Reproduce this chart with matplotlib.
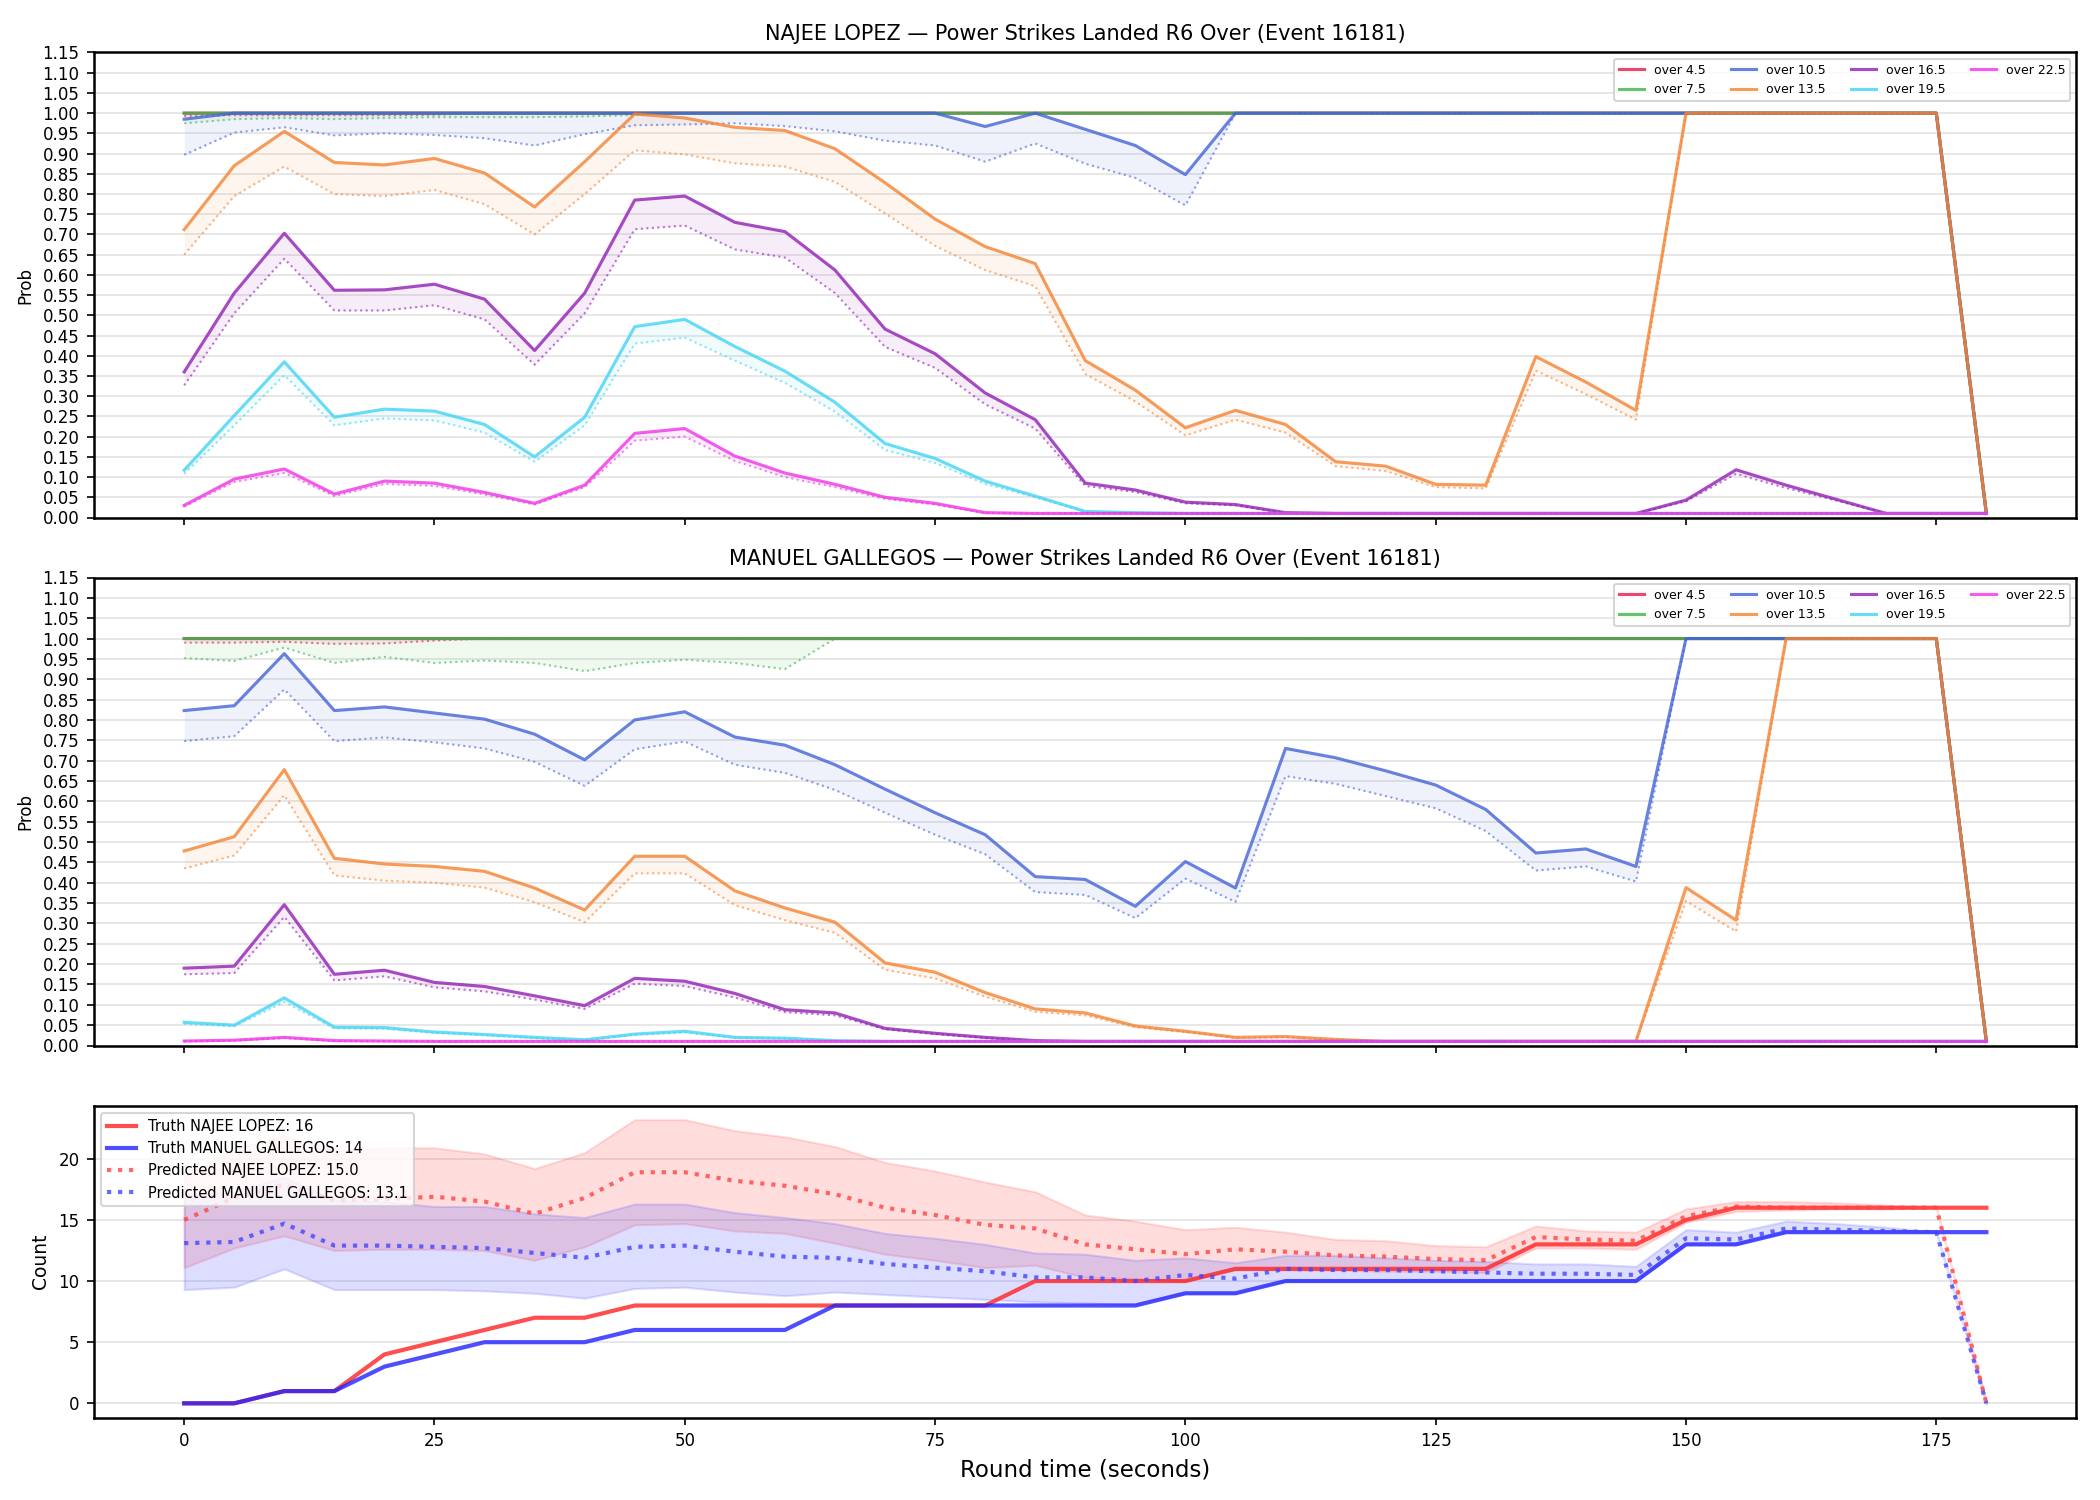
import numpy as np
import matplotlib
matplotlib.use('Agg')
import matplotlib.pyplot as plt

times = list(range(0, 185, 5))
thresholds = ['over 4.5', 'over 7.5', 'over 10.5', 'over 13.5', 'over 16.5', 'over 19.5', 'over 22.5']
colors = ['#e6194b', '#3cb44b', '#4363d8', '#f58231', '#911eb4', '#42d4f4', '#f032e6']
fighterA = 'NAJEE LOPEZ'
fighterB = 'MANUEL GALLEGOS'
eventId = 16181

F = 0.01  # floor value

# ---------- NAJEE LOPEZ : solid (actual) and dotted (predicted) ----------
lopez_solid = [
    [1.0]*36 + [F],
    [1.0]*36 + [F],
    [0.985, 1.0, 1.0, 1.0, 1.0, 1.0, 1.0, 1.0, 1.0, 1.0, 1.0, 1.0, 1.0, 1.0, 1.0, 1.0, 0.967, 1.0, 0.96, 0.92,
     0.848] + [1.0]*15 + [F],
    [0.712, 0.87, 0.955, 0.878, 0.872, 0.888, 0.852, 0.768, 0.88, 0.998, 0.988, 0.965, 0.957, 0.912, 0.828,
     0.738, 0.67, 0.628, 0.388, 0.315, 0.222, 0.265, 0.23, 0.138, 0.127, 0.082, 0.08, 0.398, 0.335, 0.265,
     1.0, 1.0, 1.0, 1.0, 1.0, 1.0, F],
    [0.36, 0.555, 0.703, 0.562, 0.563, 0.577, 0.54, 0.413, 0.555, 0.785, 0.795, 0.73, 0.707, 0.612, 0.466,
     0.405, 0.308, 0.242, 0.085, 0.068, 0.038, 0.032, 0.012, F, F, F, F, F, F, F, 0.043, 0.118, 0.08, 0.045,
     F, F, F],
    [0.117, 0.252, 0.385, 0.248, 0.268, 0.263, 0.23, 0.15, 0.248, 0.472, 0.49, 0.423, 0.362, 0.285, 0.183,
     0.146, 0.09, 0.053, 0.015, 0.012] + [F]*17,
    [0.03, 0.095, 0.12, 0.058, 0.09, 0.085, 0.062, 0.035, 0.08, 0.208, 0.22, 0.152, 0.11, 0.082, 0.05,
     0.035, 0.012] + [F]*20,
]
lopez_dotted = [
    [0.993, 0.995, 0.995, 0.995, 0.995, 0.996] + [1.0]*30 + [F],
    [0.975, 0.985, 0.988, 0.985, 0.988, 0.99, 0.99, 0.99, 0.992, 0.995] + [1.0]*26 + [F],
    [0.897, 0.952, 0.965, 0.945, 0.95, 0.946, 0.938, 0.92, 0.948, 0.97, 0.972, 0.975, 0.968, 0.955, 0.932,
     0.92, 0.88, 0.925, 0.875, 0.84, 0.772] + [1.0]*15 + [F],
    [0.65, 0.795, 0.868, 0.80, 0.795, 0.81, 0.775, 0.70, 0.80, 0.908, 0.898, 0.876, 0.868, 0.83, 0.752,
     0.672, 0.612, 0.572, 0.355, 0.287, 0.203, 0.242, 0.21, 0.127, 0.115, 0.075, 0.072, 0.363, 0.305, 0.242,
     1.0, 1.0, 1.0, 1.0, 1.0, 1.0, F],
    [0.327, 0.505, 0.64, 0.512, 0.512, 0.525, 0.49, 0.378, 0.505, 0.713, 0.722, 0.663, 0.643, 0.555, 0.422,
     0.37, 0.28, 0.22, 0.078, 0.063, 0.035, 0.03, 0.011, F, F, F, F, F, F, F, 0.04, 0.108, 0.073, 0.042,
     F, F, F],
    [0.108, 0.228, 0.352, 0.228, 0.245, 0.24, 0.21, 0.138, 0.228, 0.43, 0.445, 0.388, 0.333, 0.262, 0.167,
     0.135, 0.083, 0.05, 0.014, 0.011] + [F]*17,
    [0.027, 0.088, 0.11, 0.053, 0.083, 0.078, 0.057, 0.032, 0.075, 0.19, 0.2, 0.14, 0.1, 0.075, 0.046,
     0.032, 0.011] + [F]*20,
]

# ---------- MANUEL GALLEGOS ----------
gallegos_solid = [
    [1.0]*36 + [F],
    [1.0]*36 + [F],
    [0.823, 0.835, 0.963, 0.823, 0.832, 0.817, 0.802, 0.765, 0.702, 0.8, 0.82, 0.758, 0.738, 0.69, 0.63,
     0.572, 0.518, 0.415, 0.408, 0.342, 0.452, 0.387, 0.73, 0.707, 0.675, 0.64, 0.58, 0.473, 0.483, 0.44,
     1.0, 1.0, 1.0, 1.0, 1.0, 1.0, F],
    [0.478, 0.513, 0.678, 0.46, 0.446, 0.44, 0.428, 0.387, 0.333, 0.465, 0.465, 0.38, 0.338, 0.303, 0.203,
     0.18, 0.13, 0.09, 0.08, 0.048, 0.035, 0.02, 0.022, 0.015, F, F, F, F, F, F, 0.388, 0.308,
     1.0, 1.0, 1.0, 1.0, F],
    [0.19, 0.195, 0.346, 0.175, 0.185, 0.155, 0.145, 0.122, 0.098, 0.165, 0.158, 0.128, 0.088, 0.08, 0.042,
     0.03, 0.02, 0.012] + [F]*19,
    [0.057, 0.05, 0.117, 0.045, 0.044, 0.033, 0.027, 0.02, 0.014, 0.028, 0.035, 0.02, 0.018, 0.012] + [F]*23,
    [0.011, 0.013, 0.02, 0.012, 0.011] + [F]*32,
]
gallegos_dotted = [
    [0.99, 0.99, 0.992, 0.987, 0.988, 0.995] + [1.0]*30 + [F],
    [0.952, 0.945, 0.978, 0.94, 0.955, 0.94, 0.946, 0.94, 0.92, 0.94, 0.948, 0.94, 0.925] + [1.0]*23 + [F],
    [0.748, 0.76, 0.875, 0.748, 0.757, 0.745, 0.73, 0.697, 0.638, 0.728, 0.747, 0.69, 0.67, 0.628, 0.572,
     0.518, 0.47, 0.377, 0.37, 0.313, 0.41, 0.353, 0.662, 0.643, 0.613, 0.583, 0.527, 0.43, 0.44, 0.403,
     1.0, 1.0, 1.0, 1.0, 1.0, 1.0, F],
    [0.435, 0.467, 0.615, 0.418, 0.405, 0.4, 0.388, 0.352, 0.303, 0.423, 0.423, 0.345, 0.308, 0.277, 0.186,
     0.165, 0.12, 0.083, 0.074, 0.045, 0.033, 0.019, 0.02, 0.014, F, F, F, F, F, F, 0.355, 0.28,
     1.0, 1.0, 1.0, 1.0, F],
    [0.175, 0.178, 0.316, 0.16, 0.17, 0.143, 0.133, 0.113, 0.09, 0.152, 0.146, 0.118, 0.082, 0.074, 0.04,
     0.028, 0.018, 0.011] + [F]*19,
    [0.053, 0.047, 0.107, 0.042, 0.041, 0.031, 0.025, 0.018, 0.013, 0.026, 0.032, 0.019, 0.017, 0.011] + [F]*23,
    [0.010, 0.012, 0.018, 0.011, 0.010] + [F]*32,
]

# ---------- counts ----------
truth_lopez = [0, 0, 1, 1, 4, 5, 6, 7, 7, 8, 8, 8, 8, 8, 8, 8, 8, 10, 10, 10, 10, 11, 11, 11, 11, 11, 11,
               13, 13, 13, 15, 16, 16, 16, 16, 16, 16]
truth_gallegos = [0, 0, 1, 1, 3, 4, 5, 5, 5, 6, 6, 6, 6, 8, 8, 8, 8, 8, 8, 8, 9, 9, 10, 10, 10, 10, 10,
                  10, 10, 10, 13, 13, 14, 14, 14, 14, 14]
pred_lopez = [15.0, 16.8, 17.9, 16.6, 16.7, 16.9, 16.5, 15.5, 16.8, 18.9, 18.9, 18.2, 17.8, 17.1, 16.0,
              15.4, 14.6, 14.3, 13.0, 12.6, 12.2, 12.6, 12.4, 12.1, 12.0, 11.8, 11.7, 13.6, 13.4, 13.3,
              15.3, 16.1, 16.0, 16.0, 16.0, 16.0, 0.0]
pred_gallegos = [13.1, 13.2, 14.7, 12.9, 12.9, 12.8, 12.7, 12.3, 11.9, 12.8, 12.9, 12.4, 12.0, 11.9, 11.4,
                 11.1, 10.8, 10.3, 10.3, 10.0, 10.5, 10.2, 11.0, 10.9, 10.9, 10.8, 10.7, 10.6, 10.6, 10.5,
                 13.5, 13.4, 14.3, 14.2, 14.1, 14.0, 0.0]
lopez_hi = [18.5, 20.8, 21.9, 20.7, 20.9, 20.9, 20.4, 19.2, 20.5, 23.2, 23.2, 22.3, 21.8, 21.0, 19.7,
            19.0, 18.1, 17.3, 15.4, 14.9, 14.2, 14.4, 14.0, 13.4, 13.3, 12.9, 12.8, 14.5, 14.1, 14.0,
            15.9, 16.5, 16.5, 16.4, 16.2, 16.0, 0.0]
lopez_lo = [11.1, 12.7, 13.7, 12.5, 12.6, 12.6, 12.5, 11.7, 12.8, 14.6, 14.7, 14.1, 13.9, 13.1, 12.2,
            11.7, 11.1, 11.3, 10.3, 10.2, 10.0, 10.9, 10.9, 10.9, 10.8, 10.8, 10.7, 12.7, 12.7, 12.6,
            14.8, 15.7, 15.8, 15.9, 15.9, 16.0, 0.0]
gallegos_hi = [17.0, 17.3, 18.5, 16.6, 16.5, 16.1, 16.1, 15.5, 15.2, 16.3, 16.3, 15.6, 15.2, 14.7, 13.9,
               13.5, 13.0, 12.3, 12.2, 11.7, 11.9, 11.5, 12.1, 12.1, 11.9, 11.7, 11.6, 11.4, 11.4, 11.2,
               14.2, 14.0, 14.9, 14.7, 14.4, 14.0, 0.0]
gallegos_lo = [9.3, 9.5, 11.0, 9.3, 9.3, 9.3, 9.2, 9.0, 8.6, 9.4, 9.5, 9.1, 8.8, 9.1, 8.9, 8.7, 8.5, 8.3,
               8.2, 8.1, 9.0, 9.0, 10.0, 10.0, 10.0, 10.0, 10.0, 10.0, 10.0, 10.0, 13.0, 13.0, 14.0, 14.0,
               14.0, 14.0, 0.0]

plt.rcParams['axes.linewidth'] = 1.2

fig = plt.figure(figsize=(14, 10), dpi=150)
ax1 = fig.add_axes([0.0448, 0.655, 0.944, 0.310])
ax2 = fig.add_axes([0.0448, 0.303, 0.944, 0.312], sharex=ax1)
ax3 = fig.add_axes([0.0448, 0.055, 0.944, 0.208], sharex=ax1)

t = np.array(times)


def plot_probs(ax, solids, dotteds, name):
    for lab, col, s, d in zip(thresholds, colors, solids, dotteds):
        s = np.array(s)
        d = np.array(d)
        ax.plot(t, s, color=col, lw=1.5, alpha=0.8, label=lab)
        ax.plot(t, d, color=col, lw=1.0, ls=':', alpha=0.6)
        ax.fill_between(t, d, s, color=col, alpha=0.08, lw=0)
    ax.set_ylim(0, 1.15)
    ax.set_yticks(np.arange(0, 1.151, 0.05))
    ax.tick_params(axis='y', labelsize=8)
    ax.tick_params(axis='x', labelbottom=False)
    ax.grid(axis='y', color='#e3e3e3', lw=0.8)
    ax.set_axisbelow(True)
    ax.set_ylabel('Prob', fontsize=8)
    ax.set_title(f'{name} \u2014 Power Strikes Landed R6 Over (Event {eventId})', fontsize=10)
    ax.legend(loc='upper right', ncol=4, fontsize=6)


plot_probs(ax1, lopez_solid, lopez_dotted, fighterA)
plot_probs(ax2, gallegos_solid, gallegos_dotted, fighterB)

ax3.fill_between(t, lopez_lo, lopez_hi, color='#ff4444', alpha=0.18, lw=1)
ax3.fill_between(t, gallegos_lo, gallegos_hi, color='#4444ff', alpha=0.18, lw=1)
ax3.plot(t, truth_lopez, color='#ff2222', lw=2, alpha=0.8, label=f'Truth {fighterA}: {truth_lopez[-1]}')
ax3.plot(t, truth_gallegos, color='#2222ff', lw=2, alpha=0.8, label=f'Truth {fighterB}: {truth_gallegos[-1]}')
ax3.plot(t, pred_lopez, color='#ff4444', lw=2, ls=':', alpha=0.8, label=f'Predicted {fighterA}: {pred_lopez[0]:.1f}')
ax3.plot(t, pred_gallegos, color='#4444ff', lw=2, ls=':', alpha=0.8, label=f'Predicted {fighterB}: {pred_gallegos[0]:.1f}')
ax3.set_xticks([0, 25, 50, 75, 100, 125, 150, 175])
ax3.tick_params(labelsize=8)
ax3.grid(axis='y', color='#e3e3e3', lw=0.8)
ax3.set_axisbelow(True)
ax3.set_ylabel('Count', fontsize=9)
ax3.set_xlabel('Round time (seconds)', fontsize=11)
ax3.legend(loc='upper left', fontsize=7)

fig.savefig('out.png', dpi=150)
